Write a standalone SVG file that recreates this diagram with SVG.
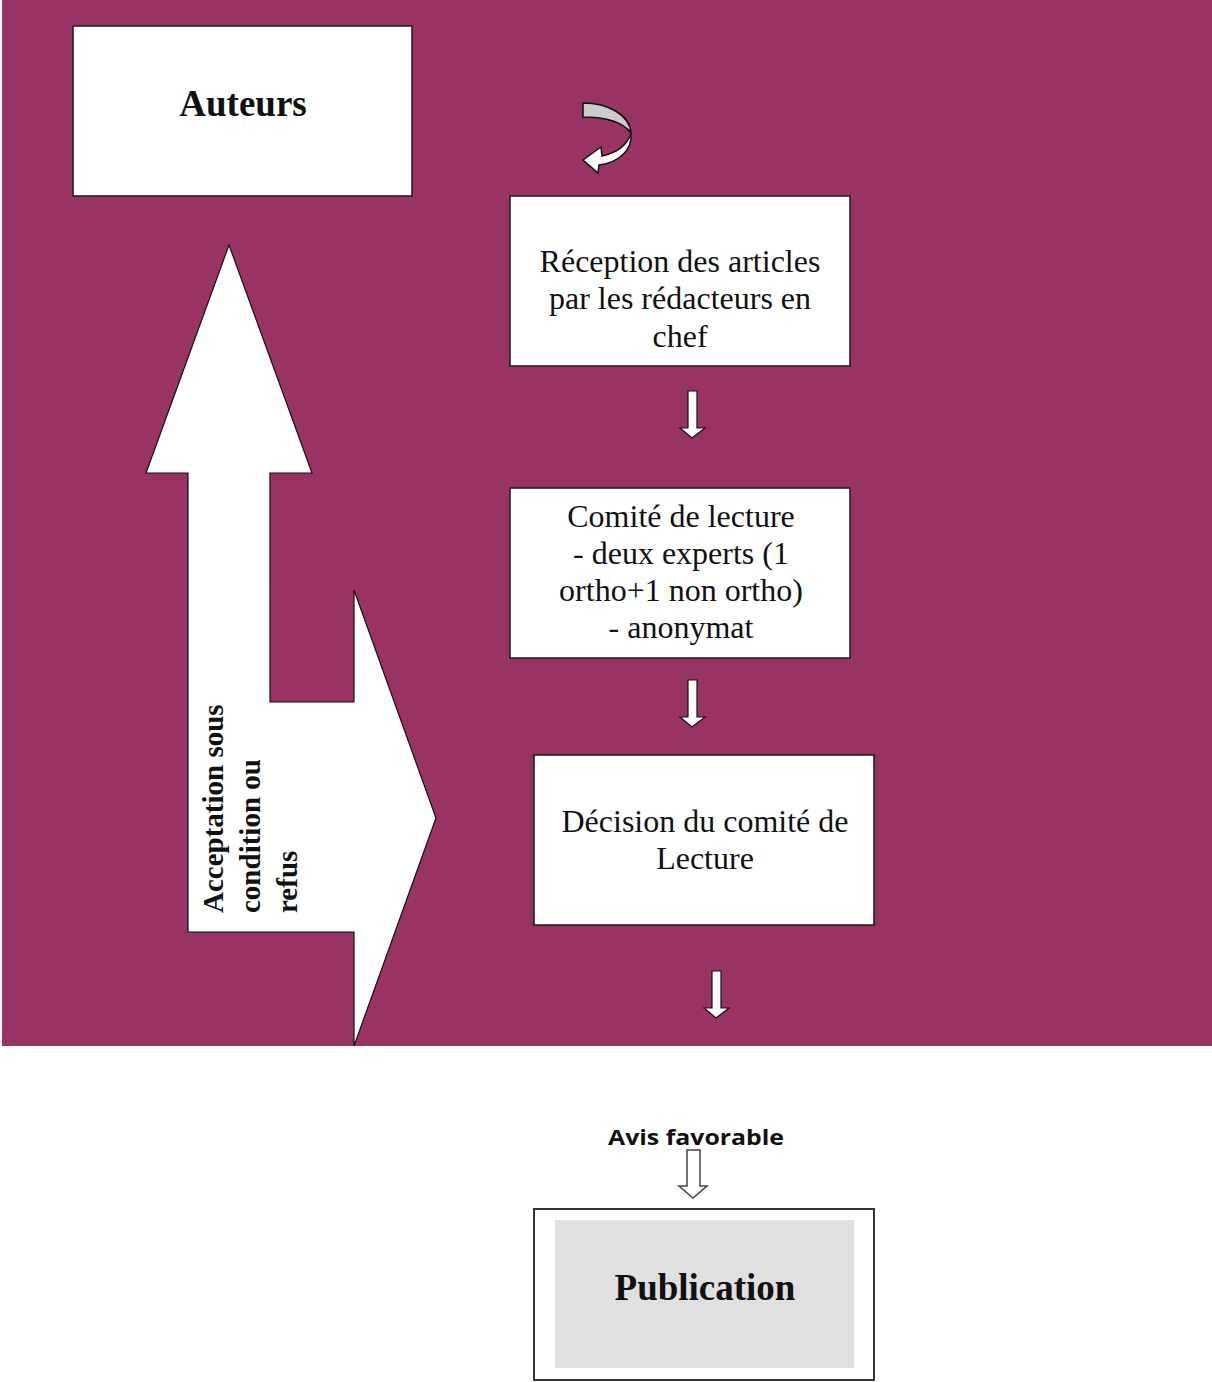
<svg xmlns="http://www.w3.org/2000/svg" width="1212" height="1382" viewBox="0 0 1212 1382">
<style>
.box{fill:#fff;stroke:#222;stroke-width:1.6}
.t{font-family:"Liberation Serif","Times New Roman",serif;font-size:32px;fill:#111;text-anchor:middle}
.tb{font-family:"Liberation Serif","Times New Roman",serif;font-size:37px;font-weight:bold;fill:#111;text-anchor:middle}
.rot{font-family:"Liberation Serif","Times New Roman",serif;font-size:29px;font-weight:bold;fill:#111}
.arr{fill:#fff;stroke:#111;stroke-width:1.2;stroke-linejoin:miter}
</style>
<rect width="1212" height="1382" fill="#fff"/>
<rect x="2" y="0" width="1210" height="1046" fill="#993366"/>
<g id="connectors">
  <polygon class="arr" points="229,245 312,473 270,473 270,702 354,702 354,590 436,818 354,1046 354,932 188,932 188,473 146,473"/>
  <text class="rot" transform="translate(223,913) rotate(-90)">Acceptation sous</text>
  <text class="rot" transform="translate(260,913) rotate(-90)">condition ou</text>
  <text class="rot" transform="translate(297,913) rotate(-90)">refus</text>
  <path d="M583,103 C608,103 630,115 631,133 C622,121 603,117 583,117 Z" fill="#cccccc" stroke="#111" stroke-width="1.5"/>
  <path d="M631,133 C627,146 616,153 602,156 L601,147 L583,160 L598,173 L599,165 C617,163 633,151 631,133 Z" fill="#fff" stroke="#111" stroke-width="1.5"/>
  <polygon class="arr" points="688,391 697,391 697,428 705,428 692,438 680,428 688,428"/>
  <polygon class="arr" points="688,680 697,680 697,717 705,717 692,727 680,717 688,717"/>
  <polygon class="arr" points="712,971 721,971 721,1008 729,1008 716,1018 704,1008 712,1008"/>
  <polygon points="687,1150 700,1150 700,1186 707,1186 693,1198 679,1186 687,1186" fill="#fff" stroke="#444" stroke-width="1.5"/>
  <text x="696" y="1145" font-family="'Open Sans','Liberation Sans',sans-serif" font-size="21" font-weight="bold" fill="#111" text-anchor="middle" textLength="176" lengthAdjust="spacingAndGlyphs">Avis favorable</text>
</g>
<g id="auteurs">
  <rect class="box" x="73" y="26" width="339" height="170"/>
  <text class="tb" x="243" y="116">Auteurs</text>
</g>
<g id="reception">
  <rect class="box" x="510" y="196" width="340" height="170"/>
  <text class="t" x="680" y="272">Réception des articles</text>
  <text class="t" x="680" y="309">par les rédacteurs en</text>
  <text class="t" x="680" y="347">chef</text>
</g>
<g id="comite">
  <rect class="box" x="510" y="488" width="340" height="170"/>
  <text class="t" x="681" y="527">Comité de lecture</text>
  <text class="t" x="681" y="564">- deux experts (1</text>
  <text class="t" x="681" y="601">ortho+1 non ortho)</text>
  <text class="t" x="681" y="638">- anonymat</text>
</g>
<g id="decision">
  <rect class="box" x="534" y="755" width="340" height="170"/>
  <text class="t" x="705" y="832">Décision du comité de</text>
  <text class="t" x="705" y="869">Lecture</text>
</g>
<g id="publication">
  <rect x="534" y="1209" width="340" height="171" fill="#fff" stroke="#333" stroke-width="2"/>
  <rect x="555" y="1220" width="299" height="148" fill="#e0e0e0"/>
  <text class="tb" x="705" y="1300">Publication</text>
</g>
</svg>
